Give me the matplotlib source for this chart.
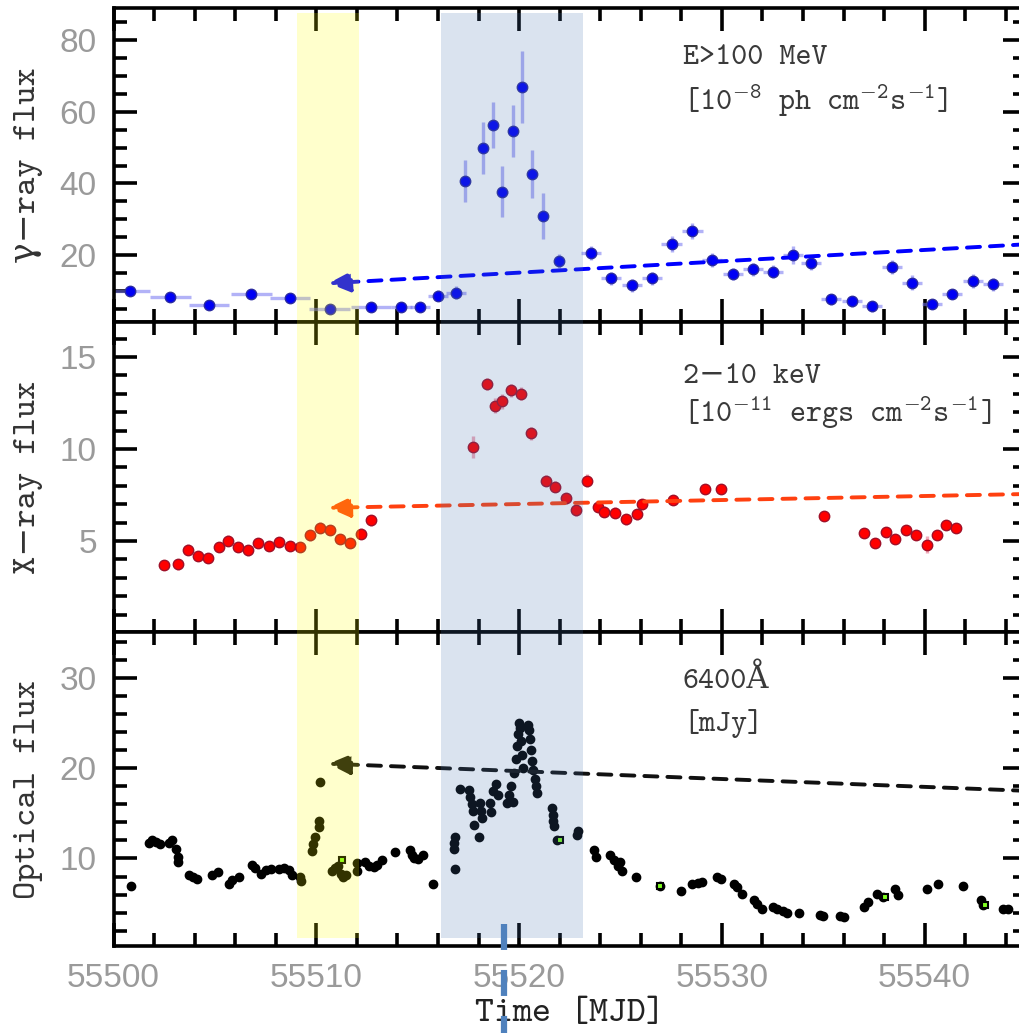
import matplotlib
matplotlib.use('Agg')
import matplotlib.pyplot as plt
import matplotlib.transforms as mtransforms
from matplotlib.patches import Rectangle
from matplotlib.lines import Line2D
from matplotlib.ticker import MultipleLocator

plt.rcParams['mathtext.fontset'] = 'custom'
plt.rcParams['mathtext.rm'] = 'cmtt10'
plt.rcParams['mathtext.it'] = 'cmtt10'
plt.rcParams['lines.scale_dashes'] = False

# gamma-ray (E>100 MeV)
gam_t = [55500.8, 55502.8, 55504.7, 55506.8, 55508.7, 55510.66, 55512.7, 55514.2, 55515.1,
         55516.0, 55516.9, 55517.33, 55518.2, 55518.72, 55519.18, 55519.7, 55520.15, 55520.65,
         55521.18, 55521.97, 55523.55, 55524.54, 55525.57, 55526.54, 55527.52, 55528.55,
         55529.53, 55530.55, 55531.53, 55532.53, 55533.51, 55534.4, 55535.4, 55536.41,
         55537.4, 55538.38, 55539.36, 55540.38, 55541.36, 55542.39, 55543.38]
gam_f = [10.0, 8.3, 6.0, 9.0, 8.1, 4.8, 5.6, 5.6, 5.4, 8.6, 9.5, 40.7, 49.8, 56.3, 37.7,
         54.7, 66.9, 42.6, 30.9, 18.3, 20.5, 13.5, 11.6, 13.5, 23.0, 26.8, 18.6, 14.7, 16.0,
         15.3, 20.0, 17.7, 7.6, 7.1, 5.7, 16.7, 12.3, 6.3, 9.1, 12.8, 11.8]
gam_ey = [1.3, 1.2, 1.2, 1.3, 1.3, 1.2, 1.2, 1.3, 1.3, 1.5, 1.8, 5.8, 7.3, 6.5, 7.2, 7.2,
          10.0, 6.6, 6.3, 2.0, 2.0, 1.8, 1.8, 1.8, 2.2, 2.2, 2.0, 1.8, 1.8, 1.8, 2.5, 2.0,
          1.5, 1.5, 1.5, 2.0, 2.0, 1.5, 1.5, 2.0, 1.8]
gam_ex = [1.0, 1.0, 1.0, 1.0, 1.0, 1.0, 1.0, 0.5, 0.5, 0.5, 0.5, 0.25, 0.25, 0.25, 0.25,
          0.25, 0.25, 0.25, 0.25, 0.25, 0.5, 0.5, 0.5, 0.5, 0.5, 0.5, 0.5, 0.5, 0.5, 0.5,
          0.5, 0.5, 0.5, 0.5, 0.5, 0.5, 0.5, 0.5, 0.5, 0.5, 0.5]

# X-ray (2-10 keV)
xr_t = [55502.47, 55503.16, 55503.69, 55504.18, 55504.64, 55505.2, 55505.67, 55506.16,
        55506.62, 55507.14, 55507.67, 55508.16, 55508.68, 55509.22, 55509.67, 55510.17,
        55510.66, 55511.19, 55511.68, 55512.2, 55512.69, 55517.74, 55518.4, 55518.82,
        55519.15, 55519.62, 55520.08, 55520.57, 55521.31, 55521.78, 55522.32, 55522.79,
        55523.36, 55523.88, 55524.2, 55524.73, 55525.27, 55525.81, 55526.04, 55527.57,
        55529.15, 55529.98, 55535.02, 55537.02, 55537.56, 55538.08, 55538.54, 55539.08,
        55539.57, 55540.1, 55540.59, 55541.05, 55541.57]
xr_f = [3.67, 3.73, 4.53, 4.17, 4.09, 4.67, 5.0, 4.67, 4.49, 4.86, 4.71, 4.95, 4.71, 4.67,
        5.31, 5.71, 5.58, 5.13, 4.89, 5.4, 6.13, 10.13, 13.53, 12.36, 12.58, 13.18, 13.0,
        10.86, 8.26, 7.95, 7.31, 6.67, 8.27, 6.85, 6.58, 6.53, 6.18, 6.44, 6.99, 7.22,
        7.82, 7.82, 6.36, 5.44, 4.89, 5.49, 5.08, 5.62, 5.31, 4.8, 5.31, 5.86, 5.68]
xr_ey = [0.25, 0.3, 0.3, 0.25, 0.25, 0.25, 0.3, 0.25, 0.3, 0.25, 0.25, 0.25, 0.25, 0.25,
         0.3, 0.3, 0.25, 0.25, 0.25, 0.3, 0.3, 0.6, 0.35, 0.4, 0.4, 0.35, 0.35, 0.35,
         0.3, 0.3, 0.3, 0.3, 0.35, 0.3, 0.3, 0.3, 0.3, 0.3, 0.3, 0.25, 0.25, 0.25, 0.25,
         0.25, 0.25, 0.25, 0.25, 0.25, 0.25, 0.45, 0.25, 0.25, 0.25]

# optical (6400 A)
opt_t = [55500.87, 55501.75, 55501.9, 55502.1, 55502.3, 55502.75, 55502.9, 55503.1, 55503.16,
         55503.2, 55503.73, 55503.9, 55504.14, 55504.88, 55505.13, 55505.7, 55505.85,
         55506.19, 55506.85, 55507.0, 55507.26, 55507.5, 55507.75, 55508.16, 55508.4,
         55508.65, 55508.8, 55509.22, 55509.25, 55509.78, 55509.85, 55509.95, 55510.12,
         55510.15, 55510.2, 55510.75, 55510.9, 55511.05, 55511.2, 55511.3, 55511.45,
         55512.0, 55512.02, 55512.42, 55512.6, 55512.83, 55513.0, 55513.24, 55513.9,
         55514.63, 55514.7, 55514.8, 55515.0, 55515.28, 55515.77, 55516.8, 55516.8,
         55516.82, 55516.84, 55517.08, 55517.55, 55517.6, 55517.7, 55517.75, 55517.8,
         55518.0, 55518.05, 55518.1, 55518.15, 55518.55, 55518.6, 55518.7, 55518.85,
         55518.95, 55519.4, 55519.5, 55519.6, 55519.7, 55519.75, 55519.85, 55519.9,
         55519.95, 55520.0, 55520.05, 55520.1, 55520.15, 55520.2, 55520.45, 55520.5,
         55520.55, 55520.6, 55520.65, 55520.7, 55520.8, 55520.85, 55520.9, 55521.62,
         55521.65, 55521.68, 55521.7, 55521.88, 55522.88, 55522.92, 55523.7, 55523.77,
         55524.5, 55524.7, 55524.9, 55525.0, 55525.1, 55525.76, 55526.96, 55527.97,
         55528.55, 55528.8, 55529.04, 55529.78, 55529.95, 55530.6, 55530.75, 55531.0,
         55531.58, 55531.75, 55531.96, 55532.5, 55532.73, 55533.0, 55533.22, 55533.79,
         55534.82, 55535.0, 55535.84, 55536.0, 55536.99, 55537.2, 55537.64, 55537.97,
         55538.54, 55538.7, 55540.1, 55540.67, 55541.9, 55542.8, 55542.9, 55543.87, 55544.1]
opt_f = [7.0, 11.7, 12.0, 11.8, 11.6, 11.7, 12.1, 11.0, 10.2, 9.6, 8.15, 8.0, 7.78, 8.15,
         8.5, 7.2, 7.6, 7.96, 9.26, 9.0, 8.33, 8.7, 8.89, 8.89, 9.0, 8.7, 8.2, 7.96, 7.5,
         10.8, 11.6, 12.4, 13.5, 14.2, 18.5, 8.6, 8.9, 9.2, 8.3, 8.0, 8.2, 9.5, 8.6, 9.6,
         9.2, 9.07, 9.3, 9.8, 10.7, 10.9, 10.4, 10.0, 9.9, 10.4, 7.2, 11.0, 11.7, 12.4, 8.8,
         17.7, 17.6, 16.8, 16.0, 15.3, 13.7, 12.4, 16.2, 15.3, 14.5, 16.2, 15.2, 17.5, 18.3,
         17.0, 16.2, 17.0, 18.0, 16.3, 19.5, 21.0, 22.5, 23.8, 25.0, 24.5, 23.0, 21.5, 20.0,
         24.8, 24.2, 23.2, 22.0, 20.8, 19.8, 18.8, 18.0, 17.3, 15.6, 14.8, 14.1, 13.6, 12.0,
         12.6, 13.1, 10.9, 10.2, 10.4, 9.8, 9.2, 9.6, 8.6, 7.9, 6.9, 6.4, 7.2, 7.3, 7.4,
         7.96, 7.7, 7.2, 6.8, 6.1, 5.37, 5.0, 4.44, 4.6, 4.44, 4.2, 3.96, 3.96, 3.7, 3.6,
         3.6, 3.5, 4.6, 5.2, 6.1, 5.7, 6.67, 5.9, 6.67, 7.2, 6.9, 5.4, 4.9, 4.44, 4.4]
opt2_t = [55511.25, 55522.0, 55526.96, 55538.06, 55543.0]
opt2_f = [9.8, 12.0, 6.9, 5.7, 4.9]

# dashed arrows: (tip, tail) in data units
gam_arrow = [(55510.6, 12.1), (55545.0, 23.0)]
xr_arrow = [(55510.6, 6.8), (55545.0, 7.55)]
opt_arrow = [(55510.6, 20.5), (55545.0, 17.5)]

bands = [(55509.05, 55512.1), (55516.15, 55523.15)]
band_colors = ['#FFFF00', '#4673AF']
marker_day = 55519.25

fig = plt.figure(figsize=(10.2, 10.33), dpi=100)
left, width = 0.1113, 0.8946
edges = [0.9923, 0.6883, 0.3882, 0.0842]
axes = [fig.add_axes([left, edges[i + 1], width, edges[i] - edges[i + 1]]) for i in range(3)]
ax1, ax2, ax3 = axes

label_font = ['cmtt10', 'DejaVu Serif']

for ax in axes:
    ax.set_xlim(55500, 55545)
    ax.xaxis.set_major_locator(MultipleLocator(10))
    ax.xaxis.set_minor_locator(MultipleLocator(2))
    ax.tick_params(which='both', direction='in', top=True, right=True, width=2.6,
                   labelsize=24, labelcolor='#9a9a9a', pad=12, labelfontfamily='Liberation Sans')
    ax.tick_params(which='major', length=16.5)
    ax.tick_params(which='minor', length=9.4)
    for s in ax.spines.values():
        s.set_linewidth(2.6)
    ax.yaxis.set_label_coords(-0.077, 0.5)

for ax in (ax1, ax2):
    ax.tick_params(labelbottom=False)

# gamma-ray panel
ax1.errorbar(gam_t, gam_f, yerr=gam_ey, xerr=gam_ex, fmt='o', ms=7.5, mfc='#0000F5',
             mec='#2a2aa0', mew=1, ecolor=(0.45, 0.45, 0.95, 0.55), elinewidth=2.4, capsize=0)
ax1.set_ylim(1.3, 89)
ax1.yaxis.set_major_locator(MultipleLocator(20))
ax1.yaxis.set_minor_locator(MultipleLocator(5))
ax1.set_ylabel('γ−ray flux', family=label_font, size=25, color='#333333')
ax1.text(0.624, 0.841, 'E>100 MeV', transform=ax1.transAxes, va='center', ha='left',
         family=label_font, size=22, color='#3a3a3a')
ax1.text(0.624, 0.704, '[10$^{-8}$ ph cm$^{-2}$s$^{-1}$]', transform=ax1.transAxes,
         va='center', ha='left', family=label_font, size=22, color='#3a3a3a')

# X-ray panel
ax2.errorbar(xr_t, xr_f, yerr=xr_ey, fmt='o', ms=7.5, mfc='#FF0000', mec='#a01028', mew=1,
             ecolor=(0.9, 0.45, 0.55, 0.6), elinewidth=2.4, capsize=0)
ax2.set_ylim(0.05, 16.9)
ax2.yaxis.set_major_locator(MultipleLocator(5))
ax2.yaxis.set_minor_locator(MultipleLocator(1))
ax2.set_ylabel('X−ray flux', family=label_font, size=25, color='#333333')
ax2.text(0.624, 0.823, '2−10 keV', transform=ax2.transAxes, va='center', ha='left',
         family=label_font, size=22, color='#3a3a3a')
ax2.text(0.624, 0.706, '[10$^{-11}$ ergs cm$^{-2}$s$^{-1}$]', transform=ax2.transAxes,
         va='center', ha='left', family=label_font, size=22, color='#3a3a3a')

# optical panel
ax3.plot(opt_t, opt_f, 'o', ms=6, color='black')
ax3.plot(opt2_t, opt2_f, 's', ms=5, mfc='#80FF20', mec='black', mew=1.5)
ax3.set_ylim(0.3, 35.1)
ax3.yaxis.set_major_locator(MultipleLocator(10))
ax3.yaxis.set_minor_locator(MultipleLocator(2))
ax3.set_ylabel('Optical flux', family=label_font, size=25, color='#333333')
ax3.set_xlabel('Time [MJD]', family=label_font, size=26, color='#222222', labelpad=4)
ax3.text(0.624, 0.847, '6400Å', transform=ax3.transAxes, va='center', ha='left',
         family=label_font, size=22, color='#3a3a3a')
ax3.text(0.624, 0.710, '[mJy]', transform=ax3.transAxes, va='center', ha='left',
         family=label_font, size=22, color='#3a3a3a')

# dashed arrows
for ax, arr, col in [(ax1, gam_arrow, '#0000FF'), (ax2, xr_arrow, '#FF4010'), (ax3, opt_arrow, '#111111')]:
    ax.annotate('', xy=arr[0], xytext=arr[1],
                arrowprops=dict(arrowstyle='-|>,head_length=1.3,head_width=0.6', mutation_scale=10,
                                linestyle=(0, (9.4, 7.2)), lw=2.8, color=col,
                                shrinkA=0, shrinkB=0))

# shaded time intervals across all panels
blend = mtransforms.blended_transform_factory(ax3.transData, fig.transFigure)
for (x0, x1), c in zip(bands, band_colors):
    fig.add_artist(Rectangle((x0, 0.092), x1 - x0, 0.9874 - 0.092, transform=blend,
                             facecolor=c, alpha=0.2, edgecolor='none', zorder=10))

# marker of the reference epoch below the axis
fig.add_artist(Line2D([marker_day, marker_day], [0.1055, -0.01], transform=blend,
                      color='#4F81BD', lw=4.5, linestyle=(0, (18.7, 14.4)), zorder=11))

fig.savefig('out.png', dpi=100)
